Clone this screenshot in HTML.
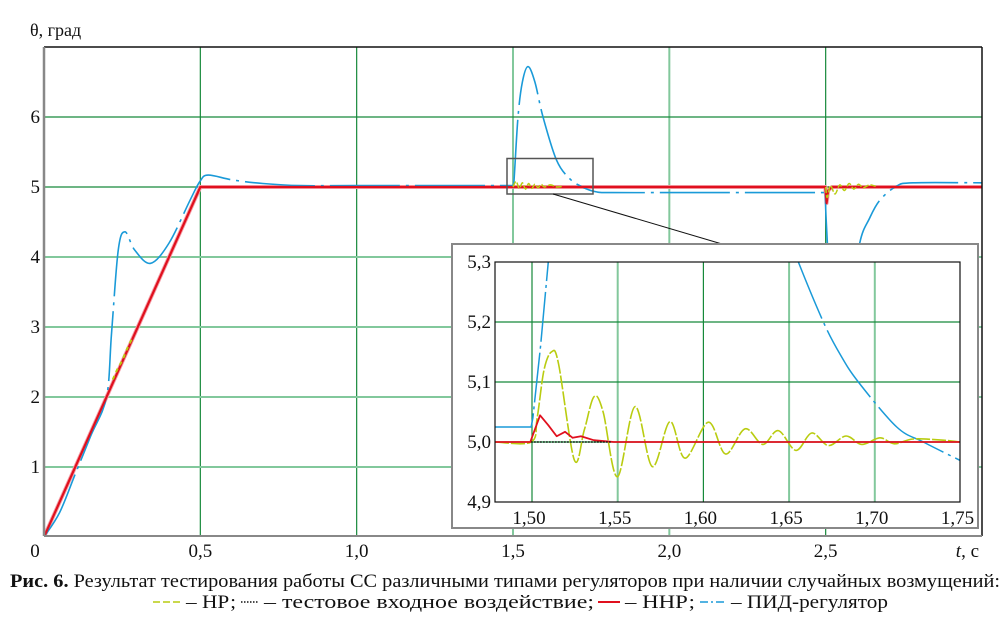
<!DOCTYPE html>
<html><head><meta charset="utf-8">
<style>
html,body{margin:0;padding:0;background:#fff;}
svg{display:block;font-family:"Liberation Serif",serif;}
</style></head>
<body>
<svg id="chart" width="1004" height="639" viewBox="0 0 1004 639" xmlns="http://www.w3.org/2000/svg">
<defs>
<clipPath id="mainClip"><rect x="44" y="47" width="938" height="489"/></clipPath>
<clipPath id="insetClip"><rect x="495" y="262" width="465" height="240"/></clipPath>
</defs>
<rect x="0" y="0" width="1004" height="639" fill="#fff"/>
<g id="mainGrid"></g>
<g id="mainSeries" clip-path="url(#mainClip)"></g>
<g id="mainFrame">
<line x1="44" y1="47" x2="982" y2="47" stroke="#111" stroke-width="1.5"/>
<line x1="982" y1="47" x2="982" y2="536" stroke="#111" stroke-width="1.5"/>
<line x1="44" y1="536" x2="982" y2="536" stroke="#888" stroke-width="2"/>
<line x1="44" y1="47" x2="44" y2="536" stroke="#888" stroke-width="2.5"/>
</g>
<g id="mainLabels" font-size="19" fill="#111"></g>
<text x="30" y="36" font-size="18" fill="#111">θ, град</text>
<text x="979" y="557" font-size="19" fill="#111" text-anchor="end"><tspan font-style="italic">t</tspan>, с</text>
<rect x="507" y="158.5" width="86" height="35.5" fill="none" stroke="#555" stroke-width="1.5"/>
<line x1="553" y1="194" x2="722" y2="244" stroke="#111" stroke-width="1"/>
<g id="inset">
<rect x="452" y="244" width="526" height="284" fill="#fff" stroke="#888" stroke-width="2"/>
<g id="insetGrid"></g>
<g id="insetSeries" clip-path="url(#insetClip)"></g>
<rect x="495" y="262" width="465" height="240" fill="none" stroke="#111" stroke-width="1.2"/>
<g id="insetLabels" font-size="19" fill="#111"></g>
</g>
<text x="10" y="587" font-size="18.5" fill="#111" textLength="990" lengthAdjust="spacingAndGlyphs"><tspan font-weight="bold">Рис. 6.</tspan> Результат тестирования работы СС различными типами регуляторов при наличии случайных возмущений:</text>
<g>
<line x1="153" y1="602" x2="181" y2="602" stroke="#b9cc10" stroke-width="1.5" stroke-dasharray="7 3"/>
<line x1="241" y1="602" x2="259" y2="602" stroke="#111" stroke-width="1.5" stroke-dasharray="1.5 1.5"/>
<line x1="598" y1="602" x2="620" y2="602" stroke="#e0101e" stroke-width="2"/>
<line x1="700" y1="602" x2="726" y2="602" stroke="#1a9ad8" stroke-width="1.5" stroke-dasharray="8 3 2 3"/>
<text x="186" y="608" font-size="18.5" fill="#111" textLength="50" lengthAdjust="spacingAndGlyphs">– НР;</text>
<text x="264" y="608" font-size="18.5" fill="#111" textLength="330" lengthAdjust="spacingAndGlyphs">– тестовое входное воздействие;</text>
<text x="625" y="608" font-size="18.5" fill="#111" textLength="70" lengthAdjust="spacingAndGlyphs">– ННР;</text>
<text x="731" y="608" font-size="18.5" fill="#111" textLength="157" lengthAdjust="spacingAndGlyphs">– ПИД-регулятор</text>
</g>
</svg>
<script>
// ---- main chart data ----
const mainXTicks = [0, 0.5, 1.0, 1.5, 2.0, 2.5];
const mainXTickLabels = ["0", "0,5", "1,0", "1,5", "2,0", "2,5"];
const mainYTicks = [1, 2, 3, 4, 5, 6];
const mainYTickLabels = ["1", "2", "3", "4", "5", "6"];
const redT = [0, 0.5, 2.499, 2.503, 2.508, 2.52, 3.0];
const redV = [0, 5, 5, 4.77, 4.95, 5, 5];
const inputT = [0, 0.5, 3.0];
const inputV = [0, 5, 5];
const pidT1 = [0, 0.05, 0.1, 0.15, 0.2, 0.216, 0.2375, 0.259, 0.29, 0.341, 0.4, 0.467, 0.4987, 0.525, 0.604, 0.7, 0.818, 1.0, 1.499];
const pidV1 = [0, 0.35, 0.9, 1.45, 2.0, 2.91, 4.1, 4.36, 4.1, 3.91, 4.2, 4.81, 5.08, 5.17, 5.1, 5.05, 5.02, 5.02, 5.02];
const pidT2 = [1.499, 1.503, 1.516, 1.53, 1.548, 1.57, 1.596, 1.639, 1.681, 1.724, 1.767, 1.81, 2.0, 2.499];
const pidV2 = [5.02, 5.08, 6.0, 6.5, 6.72, 6.5, 6.0, 5.386, 5.12, 4.995, 4.93, 4.92, 4.92, 4.92];
const pidT3 = [2.499, 2.502, 2.52, 2.55, 2.58, 2.609, 2.64, 2.673, 2.726, 2.78, 3.0];
const pidV3 = [4.92, 4.5, 3.2, 2.6, 3.3, 4.2, 4.55, 4.81, 5.01, 5.06, 5.06];
const nrT1 = [0.22, 0.235, 0.25, 0.265, 0.28];
const nrV1 = [2.25, 2.4, 2.52, 2.68, 2.82];
const nrT2 = [1.5, 1.51, 1.52, 1.53, 1.54, 1.55, 1.56, 1.57, 1.58, 1.59, 1.6, 1.62, 1.64, 1.66];
const nrV2 = [5.0, 5.08, 4.98, 5.06, 4.97, 5.05, 4.98, 5.04, 4.99, 5.04, 5.0, 5.03, 5.0, 5.01];
const nrT3 = [2.5, 2.505, 2.515, 2.53, 2.545, 2.56, 2.575, 2.59, 2.605, 2.62, 2.64, 2.66];
const nrV3 = [5.0, 4.85, 5.02, 4.9, 5.03, 4.95, 5.05, 4.97, 5.04, 4.99, 5.03, 5.01];

// ---- inset data ----
const insXTicks = [1.50, 1.55, 1.60, 1.65, 1.70, 1.75];
const insXTickLabels = ["1,50", "1,55", "1,60", "1,65", "1,70", "1,75"];
const insYTicks = [4.9, 5.0, 5.1, 5.2, 5.3];
const insYTickLabels = ["4,9", "5,0", "5,1", "5,2", "5,3"];
const insNrT = [1.4784, 1.4995, 1.503, 1.507, 1.5115, 1.5155, 1.5247, 1.5305, 1.5362, 1.5415, 1.5498, 1.5601, 1.5702, 1.5805, 1.5893, 1.6029, 1.6129, 1.6243, 1.6346, 1.6437, 1.654, 1.6632, 1.6729, 1.6832, 1.6924, 1.703, 1.7114, 1.7224, 1.74, 1.7497];
const insNrV = [5.0, 5.0, 5.04, 5.12, 5.1505, 5.13, 4.97, 5.02, 5.0755, 5.05, 4.942, 5.059, 4.959, 5.034, 4.973, 5.033, 4.98, 5.022, 4.996, 5.019, 4.986, 5.015, 4.994, 5.01, 4.996, 5.007, 4.997, 5.005, 5.003, 5.0];
const insRedT = [1.4784, 1.499, 1.5047, 1.5095, 1.5144, 1.5193, 1.5237, 1.5286, 1.536, 1.5477, 1.75];
const insRedV = [5.0, 5.0, 5.0445, 5.028, 5.0096, 5.017, 5.007, 5.0096, 5.003, 5.0, 5.0];
const insInputT = [1.4995, 1.546];
const insInputV = [5.0, 5.0];
const insPidT1 = [1.4784, 1.4995, 1.5005, 1.505, 1.5095, 1.512];
const insPidV1 = [5.025, 5.025, 5.04, 5.16, 5.3, 5.38];
const insPidT2 = [1.652, 1.6554, 1.67, 1.68, 1.6904, 1.7128, 1.7283, 1.75];
const insPidV2 = [5.33, 5.3, 5.2, 5.145, 5.1, 5.025, 5.0, 4.969];

const NS = "http://www.w3.org/2000/svg";
const mx = t => 44 + t * (938 / 3);
const my = v => 537 - v * 70;
const ix = t => 532 + (t - 1.5) * 1714;
const iy = v => 442 - (v - 5.0) * 600;

function smoothPath(T, V, fx, fy) {
  const p = T.map((t, i) => [fx(t), fy(V[i])]);
  let d = "M" + p[0][0].toFixed(2) + "," + p[0][1].toFixed(2);
  for (let i = 0; i < p.length - 1; i++) {
    const p0 = p[i - 1] || p[i], p1 = p[i], p2 = p[i + 1], p3 = p[i + 2] || p2;
    const c1 = [p1[0] + (p2[0] - p0[0]) / 6, p1[1] + (p2[1] - p0[1]) / 6];
    const c2 = [p2[0] - (p3[0] - p1[0]) / 6, p2[1] - (p3[1] - p1[1]) / 6];
    d += " C" + c1.map(n => n.toFixed(2)).join(",") + " " + c2.map(n => n.toFixed(2)).join(",") + " " + p2.map(n => n.toFixed(2)).join(",");
  }
  return d;
}
function linePath(T, V, fx, fy) {
  return T.map((t, i) => (i ? "L" : "M") + fx(t).toFixed(2) + "," + fy(V[i]).toFixed(2)).join(" ");
}
function addPath(parent, d, stroke, width, dash, name) {
  const el = document.createElementNS(NS, "path");
  el.setAttribute("d", d);
  el.setAttribute("fill", "none");
  el.setAttribute("stroke", stroke);
  el.setAttribute("stroke-width", width);
  if (dash) el.setAttribute("stroke-dasharray", dash);
  el.setAttribute("stroke-linejoin", "round");
  
  
  parent.appendChild(el);
  return el;
}
function addLine(parent, x1, y1, x2, y2, stroke, w, name) {
  const el = document.createElementNS(NS, "line");
  el.setAttribute("x1", x1); el.setAttribute("y1", y1);
  el.setAttribute("x2", x2); el.setAttribute("y2", y2);
  el.setAttribute("stroke", stroke); el.setAttribute("stroke-width", w);
  
  
  parent.appendChild(el);
}
function addText(parent, x, y, txt, anchor, name) {
  const el = document.createElementNS(NS, "text");
  el.setAttribute("x", x); el.setAttribute("y", y);
  el.setAttribute("text-anchor", anchor);
  el.textContent = txt;
  
  
  parent.appendChild(el);
}
const DARK = "#16893a", LIGHT = "#82c89c";

const mg = document.getElementById("mainGrid");
const mainVLight = [false, false, false, true, true, false];
mainXTicks.forEach((t, i) => {
  if (t === 0) return;
  addLine(mg, mx(t), 47, mx(t), 536, mainVLight[i] ? LIGHT : DARK, mainVLight[i] ? 2 : 1.2, "main-gridline-x");
});
mainYTicks.forEach(v => {
  const light = v <= 4;
  addLine(mg, 44, my(v), 982, my(v), light ? LIGHT : DARK, light ? 2 : 1.2, "main-gridline-y");
});
const ml = document.getElementById("mainLabels");
mainXTicks.forEach((t, i) => addText(ml, i === 0 ? 35 : mx(t), 557, mainXTickLabels[i], "middle", "x-tick-label"));
mainYTicks.forEach((v, i) => addText(ml, 40, my(v) + 6, mainYTickLabels[i], "end", "y-tick-label"));

const ms = document.getElementById("mainSeries");
const BLUE = "#1a9ad8", RED = "#e0101e", YEL = "#b9cc10";
addPath(ms, linePath(redT, redV, mx, my), "#f4a0a8", 4, null, "nnr-halo");
addPath(ms, smoothPath(pidT1, pidV1, mx, my), BLUE, 1.6, "70 6 3 6", "pid-line-part1");
addPath(ms, smoothPath(pidT2, pidV2, mx, my), BLUE, 1.6, "70 6 3 6", "pid-line-part2");
addPath(ms, smoothPath(pidT3, pidV3, mx, my), BLUE, 1.6, "70 6 3 6", "pid-line-part3");
addPath(ms, linePath(inputT, inputV, mx, my), "#111", 1, "1.5 1.5", "input-line");
addPath(ms, linePath(redT, redV, mx, my), RED, 2.2, null, "nnr-line");
addPath(ms, smoothPath(nrT1, nrV1, mx, my), YEL, 2, "4 4", "nr-line-part1");
addPath(ms, smoothPath(nrT2, nrV2, mx, my), YEL, 1.5, "6 2", "nr-line-part2");
addPath(ms, smoothPath(nrT3, nrV3, mx, my), YEL, 1.5, "6 2", "nr-line-part3");

const ig = document.getElementById("insetGrid");
const insVLight = [false, true, false, true, true, false];
insXTicks.forEach((t, i) => {
  if (t >= 1.75) return;
  addLine(ig, ix(t), 262, ix(t), 502, insVLight[i] ? LIGHT : DARK, insVLight[i] ? 2 : 1.2, "inset-gridline-x");
});
insYTicks.forEach(v => {
  if (v <= 4.9 || v >= 5.3) return;
  addLine(ig, 495, iy(v), 960, iy(v), DARK, 1.2, "inset-gridline-y");
});
const il = document.getElementById("insetLabels");
insXTicks.forEach((t, i) => addText(il, ix(t) - 3, 524, insXTickLabels[i], "middle", "inset-x-tick-label"));
insYTicks.forEach((v, i) => addText(il, 491, iy(v) + 6, insYTickLabels[i], "end", "inset-y-tick-label"));

const is = document.getElementById("insetSeries");
addPath(is, linePath(insPidT1, insPidV1, ix, iy), BLUE, 1.5, "50 4 3 4", "inset-pid-rise");
addPath(is, smoothPath(insPidT2, insPidV2, ix, iy), BLUE, 1.5, "80 5 3 5", "inset-pid-decay");
addPath(is, smoothPath(insNrT, insNrV, ix, iy), YEL, 1.6, "14 2", "inset-nr-line");
addPath(is, linePath(insRedT, insRedV, ix, iy), RED, 1.8, null, "inset-nnr-line");
addPath(is, linePath(insInputT, insInputV, ix, iy), "#111", 1.5, "1.5 1.5", "inset-input-line");
</script>
</body></html>
